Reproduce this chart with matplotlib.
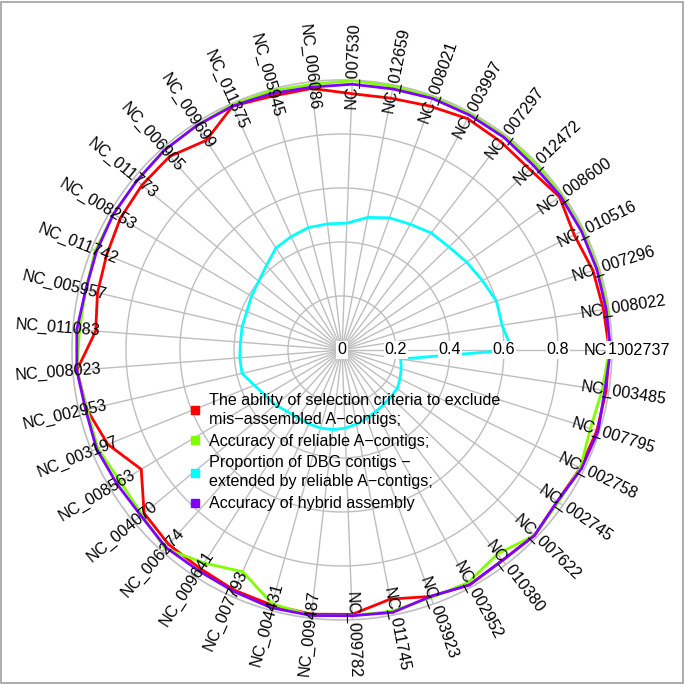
import numpy as np
import matplotlib
matplotlib.use("Agg")
import matplotlib.pyplot as plt
from matplotlib.lines import Line2D
from matplotlib.patches import Rectangle

plt.rcParams['font.family'] = ['Liberation Sans', 'DejaVu Sans']

# genome ids, counter-clockwise from 0 degrees
genomes = [
    "NC_002737", "NC_008022", "NC_007296", "NC_010516", "NC_008600", "NC_012472",
    "NC_007297", "NC_003997", "NC_008021", "NC_012659", "NC_007530", "NC_006086",
    "NC_005945", "NC_011375", "NC_009699", "NC_006905", "NC_011773", "NC_008253",
    "NC_011742", "NC_005957", "NC_011083", "NC_008023", "NC_002953", "NC_003197",
    "NC_008563", "NC_004070", "NC_006274", "NC_009641", "NC_007793", "NC_004431",
    "NC_009487", "NC_009782", "NC_011745", "NC_003923", "NC_002952", "NC_010380",
    "NC_007622", "NC_002745", "NC_002758", "NC_007795", "NC_003485",
]

exclude_ability = [
    0.99, 0.98, 0.975, 0.96, 0.985, 0.965, 0.97, 0.975, 0.96, 0.95,
    0.95, 0.975, 0.975, 0.99, 0.925, 0.96, 0.96, 0.955, 0.94, 0.93,
    0.915, 0.985, 0.97, 0.935, 0.865, 0.95, 0.965, 0.965, 0.975, 0.98,
    0.985, 0.98, 0.94, 0.97, 0.99, 0.98, 0.99, 0.975, 0.985, 0.99, 0.99,
]
reliable_acc = [
    0.99, 0.995, 0.995, 0.995, 0.995, 0.995, 0.995, 0.995, 0.995, 0.995,
    0.998, 0.99, 0.995, 0.995, 0.99, 0.99, 0.985, 0.985, 0.985, 0.975,
    0.975, 0.985, 0.97, 0.975, 0.955, 0.96, 0.985, 0.94, 0.9, 0.975,
    0.99, 0.985, 0.985, 0.975, 0.98, 0.95, 0.99, 0.98, 0.985, 0.965, 0.975,
]
dbg_extended = [
    0.63, 0.60, 0.60, 0.58, 0.565, 0.55, 0.545, 0.53, 0.52, 0.50,
    0.47, 0.47, 0.47, 0.46, 0.45, 0.42, 0.40, 0.39, 0.38, 0.38,
    0.377, 0.38, 0.38, 0.35, 0.33, 0.32, 0.305, 0.30, 0.30, 0.30,
    0.297, 0.29, 0.28, 0.27, 0.26, 0.255, 0.25, 0.25, 0.24, 0.23, 0.22,
]
hybrid_acc = [
    0.995, 0.99, 0.99, 0.99, 0.99, 0.985, 0.99, 0.99, 0.99, 0.985,
    0.985, 0.98, 0.985, 0.99, 0.99, 0.99, 0.985, 0.985, 0.98, 0.975,
    0.985, 0.985, 0.975, 0.98, 0.97, 0.965, 0.98, 0.975, 0.98, 0.99,
    0.99, 0.985, 0.99, 0.97, 0.99, 0.98, 0.99, 0.975, 0.99, 0.995, 0.985,
]

series_labels = [
    "The ability of selection criteria to exclude\nmis\u2212assembled A\u2212contigs;",
    "Accuracy of reliable A\u2212contigs;",
    "Proportion of DBG contigs \u2212\nextended by reliable A\u2212contigs;",
    "Accuracy of hybrid assembly",
]
series_colors = ["#FF0000", "#80FF00", "#00FFFF", "#8000FF"]
radial_ticks = [0, 0.2, 0.4, 0.6, 0.8, 1.0]
radial_tick_labels = ["0", "0.2", "0.4", "0.6", "0.8", "1"]

fs = 11.6
grid_col = "#BEBEBE"

fig = plt.figure(figsize=(6.85, 6.84), dpi=100)
ax = fig.add_axes([0.1051, 0.0936, 0.7883, 0.7895], projection='polar')
ax.set_theta_zero_location('E')
ax.set_ylim(0, 1)

n = len(genomes)
theta = np.arange(n) * 2 * np.pi / n

ax.set_xticks(theta)
ax.set_xticklabels([])
ax.set_yticks(radial_ticks[1:-1])
ax.set_yticklabels([])
ax.grid(True, color=grid_col, lw=1.0)
ax.spines['polar'].set_color(grid_col)
ax.spines['polar'].set_linewidth(1.2)
ax.tick_params(length=0)

closed = np.append(theta, theta[0])
for vals, col in zip([exclude_ability, reliable_acc, dbg_extended, hybrid_acc], series_colors):
    v = np.append(vals, vals[0])
    ax.plot(closed, v, color=col, lw=2.0, zorder=3)

# genome labels, rotated along the spokes
for t, name in zip(theta, genomes):
    deg = np.degrees(t)
    rot = deg - 180 if np.cos(t) < 0 else deg
    ax.text(t, 1.055, name, rotation=rot, rotation_mode='anchor',
            ha='center', va='center', fontsize=fs, clip_on=False, zorder=5)

# radial tick labels along 0 degrees
for r, lab in zip(radial_ticks, radial_tick_labels):
    ax.text(0, r, lab, ha='center', va='center', fontsize=fs, zorder=6,
            bbox=dict(facecolor='white', edgecolor='none', pad=0.8), clip_on=False)

handles = [Line2D([], [], ls='', marker='s', markersize=6, color=c) for c in series_colors]
leg = ax.legend(handles, series_labels, loc='upper left', frameon=False,
                bbox_to_anchor=(190 / 685, 1 - 393 / 684), bbox_transform=fig.transFigure,
                fontsize=fs, handlelength=0.6, handletextpad=0.55, labelspacing=0.42,
                borderpad=0, borderaxespad=0)
for txt in leg.get_texts():
    txt.set_linespacing(1.33)

fig.patches.append(Rectangle((0.0015, 0.0015), 0.995, 0.995, transform=fig.transFigure,
                             fill=False, ec="#A0A0A0", lw=1.2))

fig.savefig("out.png", dpi=100)
